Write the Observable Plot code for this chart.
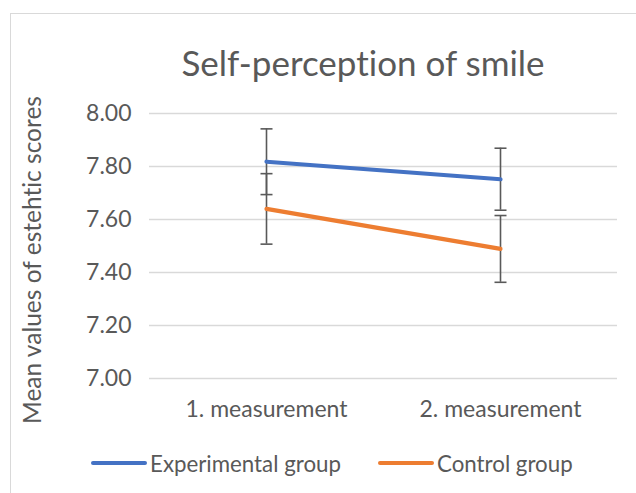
<!DOCTYPE html>
<html>
<head>
<meta charset="utf-8">
<script src="https://cdn.jsdelivr.net/npm/d3@7"></script>
<script src="https://cdn.jsdelivr.net/npm/@observablehq/plot@0.6"></script>
<style>
  html, body { margin: 0; padding: 0; background: #fff; }
  #wrap { position: relative; width: 636px; height: 493px; overflow: hidden; background: #fff; font-family: Lato, "Open Sans", sans-serif; color: #595959; font-variant-ligatures: none; }
  #frame { position: absolute; left: 10px; top: 13px; width: 640px; height: 500px; border-left: 1.5px solid #d9d9d9; border-top: 1.5px solid #d9d9d9; box-sizing: border-box; }
  #title { position: absolute; left: 0; width: 726px; top: 40px; text-align: center; font-size: 35px; line-height: 44px; white-space: nowrap; }
  #ylabel { position: absolute; left: 31px; top: 260px; transform: translate(-50%, -50%) rotate(-90deg); font-size: 24.5px; white-space: nowrap; }
  #chart { position: absolute; left: 0; top: 0; }
  #legend { position: absolute; top: 450px; left: 0; width: 636px; height: 26px; }
  .item { position: absolute; top: 0; height: 26px; display: flex; align-items: center; font-size: 22.3px; white-space: nowrap; }
  .swatch { width: 56px; height: 4px; border-radius: 2px; margin-right: 3px; }
</style>
</head>
<body>
<div id="wrap">
  <div id="frame"></div>
  <div id="chart"></div>
  <div id="title">Self-perception of smile</div>
  <div id="ylabel">Mean values of estehtic scores</div>
  <div id="legend"></div>
</div>
<script>
const categories = ["1. measurement", "2. measurement"];
const groups = ["Experimental group", "Control group"];
const groupColors = ["#4472C4", "#ED7D31"];
const experimentalMeans = [7.818, 7.752];
const experimentalErrors = [0.124, 0.117];
const controlMeans = [7.640, 7.489];
const controlErrors = [0.133, 0.126];
const yTicks = [7.0, 7.2, 7.4, 7.6, 7.8, 8.0];

const rows = [];
categories.forEach((c, i) => {
  rows.push({category: c, group: groups[0], mean: experimentalMeans[i], lo: experimentalMeans[i] - experimentalErrors[i], hi: experimentalMeans[i] + experimentalErrors[i]});
  rows.push({category: c, group: groups[1], mean: controlMeans[i], lo: controlMeans[i] - controlErrors[i], hi: controlMeans[i] + controlErrors[i]});
});

// horizontal cap symbol for error bars
const capSymbol = {
  draw(context, size) {
    const r = Math.sqrt(size / Math.PI);
    context.moveTo(-r, 0);
    context.lineTo(r, 0);
  }
};

const chart = Plot.plot({
  width: 636,
  height: 440,
  marginTop: 113,
  marginBottom: 62,
  marginLeft: 149,
  marginRight: 19,
  style: {fontFamily: "Lato, 'Open Sans', sans-serif", fontSize: "23px", color: "#595959", background: "transparent", overflow: "visible", fontVariantLigatures: "none"},
  x: {type: "point", domain: categories, padding: 0.5, label: null, tickSize: 0, tickPadding: 22},
  y: {domain: [7, 8], ticks: yTicks, tickFormat: d => d.toFixed(2), label: null, tickSize: 0, tickPadding: 18},
  color: {domain: groups, range: groupColors},
  marks: [
    Plot.ruleY(yTicks, {stroke: "#d9d9d9", strokeWidth: 1.3}),
    Plot.ruleX(rows, {x: "category", y1: "lo", y2: "hi", stroke: "#595959", strokeWidth: 1.6}),
    Plot.dot(rows, {x: "category", y: "lo", symbol: capSymbol, r: 6, fill: "none", stroke: "#595959", strokeWidth: 1.6}),
    Plot.dot(rows, {x: "category", y: "hi", symbol: capSymbol, r: 6, fill: "none", stroke: "#595959", strokeWidth: 1.6}),
    Plot.line(rows, {x: "category", y: "mean", z: "group", stroke: "group", strokeWidth: 4.2, strokeLinecap: "round"})
  ]
});
document.getElementById("chart").appendChild(chart);

const legend = document.getElementById("legend");
const legendLeft = [91, 378];
groups.forEach((g, i) => {
  const item = document.createElement("div");
  item.className = "item";
  item.style.left = legendLeft[i] + "px";
  const sw = document.createElement("div");
  sw.className = "swatch";
  sw.style.background = groupColors[i];
  const t = document.createElement("span");
  t.textContent = g;
  item.appendChild(sw);
  item.appendChild(t);
  legend.appendChild(item);
});
</script>
</body>
</html>
